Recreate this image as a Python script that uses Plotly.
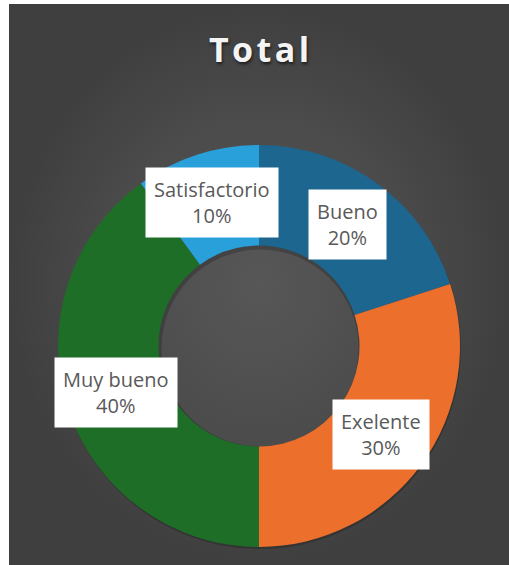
import math
import plotly.graph_objects as go

# Survey results
categories = ["Bueno", "Exelente", "Muy bueno", "Satisfactorio"]
values = [20, 30, 40, 10]
colors = ["#1c6690", "#ec6f2c", "#1e6e27", "#2aa0da"]
title_text = "Total"

W, H = 509, 565
# donut geometry (pixels)
cx, cy, R = 259, 346, 201
hole = 0.5

fig = go.Figure()

# dark radial-gradient panel behind the donut
fig.add_trace(go.Scatter(
    x=[9, 509, 509, 9, 9], y=[4, 4, 565, 565, 4],
    mode="lines", line=dict(width=0), fill="toself",
    fillgradient=dict(type="radial",
                      colorscale=[[0, "#575757"], [0.6, "#4b4b4b"], [1, "#3f3f3f"]]),
    hoverinfo="skip", showlegend=False,
))

# soft drop shadow under the ring
fig.add_trace(go.Pie(
    values=[1], marker=dict(colors=["rgba(0,0,0,0.2)"], line=dict(width=0)),
    hole=hole * 0.98, sort=False, textinfo="none", hoverinfo="skip", showlegend=False,
    domain=dict(x=[(cx - R + 1) / W, (cx + R + 1) / W],
                y=[(H - cy - R - 3) / H, (H - cy + R - 1) / H]),
))

fig.add_trace(go.Pie(
    labels=categories, values=values, sort=False, direction="clockwise", rotation=0,
    hole=hole, marker=dict(colors=colors, line=dict(width=0)),
    textinfo="none", showlegend=False,
    domain=dict(x=[(cx - R) / W, (cx + R) / W], y=[(H - cy - R) / H, (H - cy + R) / H]),
))

# white label boxes at the middle of each slice
total = sum(values)
cum = 0
r_lab = R * (1 + hole) / 2
for name, v in zip(categories, values):
    mid = (cum + v / 2) / total * 2 * math.pi
    cum += v
    px = cx + r_lab * math.sin(mid)
    py = cy - r_lab * math.cos(mid)
    fig.add_annotation(
        x=px / W, y=1 - py / H, xref="paper", yref="paper",
        xanchor="center", yanchor="middle",
        text=f"{name}<br>{round(v / total * 100)}%", showarrow=False,
        font=dict(family="Open Sans", size=20, color="#595959"),
        bgcolor="#ffffff", borderpad=8, align="center",
    )

thin = "\u200a"
fig.update_layout(
    width=W, height=H, margin=dict(l=0, r=0, t=0, b=0),
    paper_bgcolor="#ffffff", plot_bgcolor="rgba(0,0,0,0)",
    xaxis=dict(range=[0, W], visible=False, fixedrange=True),
    yaxis=dict(range=[H, 0], visible=False, fixedrange=True),
    title=dict(text=thin.join(title_text), x=259 / W, xanchor="center",
               y=1 - 50 / H, yanchor="middle",
               font=dict(family="Open Sans", size=34, color="#f4f4f4", weight="bold",
                         shadow="1px 2px 3px rgba(0,0,0,0.6)")),
)

fig.write_html("out.html")
